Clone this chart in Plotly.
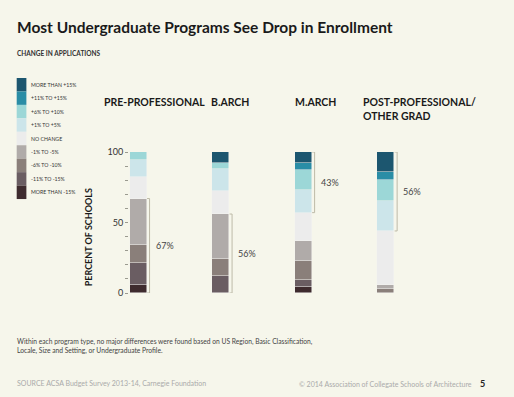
import plotly.graph_objects as go

# ---------------- data ----------------
programs = ["PRE-PROFESSIONAL", "B.ARCH", "M.ARCH", "POST-PROFESSIONAL/<br>OTHER GRAD"]
levels = ["MORE THAN -15%", "-11% TO -15%", "-6% TO -10%", "-1% TO -5%", "NO CHANGE",
          "+1% TO +5%", "+6% TO +10%", "+11% TO +15%", "MORE THAN +15%"]
colors = ["#3e2b2e", "#6a5d62", "#8a7f7a", "#b0aba9", "#ececec",
          "#cce5ea", "#9cd7d7", "#2a8da6", "#1c566f"]
# percent of schools per level (rows = levels bottom->top, cols = programs)
dec_gt15 = [6, 0, 4, 0]
dec_11_15 = [15, 12, 5, 0]
dec_6_10 = [13, 12, 14, 3]
dec_1_5 = [33, 32, 14, 3]
no_change = [15, 16, 20, 38]
inc_1_5 = [12, 16, 16, 21]
inc_6_10 = [6, 4, 14, 15]
inc_11_15 = [0, 0, 5, 6]
inc_gt15 = [0, 8, 8, 14]
series = [dec_gt15, dec_11_15, dec_6_10, dec_1_5, no_change, inc_1_5, inc_6_10, inc_11_15, inc_gt15]

# bracket annotations: (program index, low, high, label)
bracket_lo = [0, 0, 57, 44]
bracket_hi = [67, 56, 100, 100]
bracket_labels = ["67%", "56%", "43%", "56%"]

ytick_vals = list(range(0, 101, 10))
ytick_text = [str(v) if v % 50 == 0 else "" for v in ytick_vals]

# ---------------- layout geometry ----------------
W, H = 514, 397
L, R, T, B = 128.5, 104, 152.3, 103.7
BG = "#f6f6eb"
FONT = "Lato, Liberation Sans, sans-serif"

def px(x):
    return (x - L) / (W - L - R)

def py(y):
    return (H - B - y) / (H - T - B)

xs = list(range(len(programs)))
fig = go.Figure()
for name, vals, col in zip(levels, series, colors):
    fig.add_trace(go.Bar(x=xs, y=vals, name=name, marker=dict(color=col, line=dict(color="#f4f4f0", width=0.5)),
                         width=0.206, showlegend=False, hoverinfo="skip"))

shapes = []
annotations = []
bx = 0.138
for i, lo, hi, lab in zip(xs, bracket_lo, bracket_hi, bracket_labels):
    c = "#bdbaa8"
    shapes.append(dict(type="line", xref="x", yref="y", x0=i + bx, x1=i + bx, y0=lo, y1=hi, line=dict(color=c, width=1)))
    shapes.append(dict(type="line", xref="x", yref="y", x0=i + bx - 0.03, x1=i + bx, y0=lo, y1=lo, line=dict(color=c, width=1)))
    shapes.append(dict(type="line", xref="x", yref="y", x0=i + bx - 0.03, x1=i + bx, y0=hi, y1=hi, line=dict(color=c, width=1)))
    annotations.append(dict(xref="x", yref="y", x=i + 0.19, y=(lo + hi) / 2, text=lab, showarrow=False,
                            xanchor="left", yanchor="middle", font=dict(family=FONT, size=9, color="#444")))

# program headers
header_x = [103, 211, 295, 363]
for hx, name in zip(header_x, programs):
    annotations.append(dict(xref="paper", yref="paper", x=px(hx - 2), y=py(94.5), text="<b>" + name + "</b>",
                            showarrow=False, xanchor="left", yanchor="top", align="left",
                            font=dict(family=FONT, size=10.5, color="#1a1a1a")))

# legend (manual)
top = 78.3
step = 13.45
for k, (name, col) in enumerate(zip(levels[::-1], colors[::-1])):
    y0 = top + k * step
    shapes.append(dict(type="rect", xref="paper", yref="paper", x0=px(16), x1=px(25.7), y0=py(y0), y1=py(y0 + step),
                       fillcolor=col, line=dict(width=0)))
    annotations.append(dict(xref="paper", yref="paper", x=px(28.5), y=py(y0 + step / 2), text=name, showarrow=False,
                            xanchor="left", yanchor="middle", font=dict(family=FONT, size=5.2, color="#333")))

# titles and notes
annotations += [
    dict(xref="paper", yref="paper", x=px(14), y=py(27.5), text="<b>Most Undergraduate Programs See Drop in Enrollment</b>",
         showarrow=False, xanchor="left", yanchor="middle", font=dict(family=FONT, size=15.5, color="#1a1a1a")),
    dict(xref="paper", yref="paper", x=px(14), y=py(54), text="<b>CHANGE IN APPLICATIONS</b>",
         showarrow=False, xanchor="left", yanchor="middle", font=dict(family=FONT, size=6.5, color="#333")),
    dict(xref="paper", yref="paper", x=px(88), y=py(238), text="<b>PERCENT OF SCHOOLS</b>", textangle=-90,
         showarrow=False, xanchor="center", yanchor="middle", font=dict(family=FONT, size=9, color="#1a1a1a")),
    dict(xref="paper", yref="paper", x=px(14), y=py(346), align="left",
         text="Within each program type, no major differences were found based on US Region, Basic Classification,<br>"
              "Locale, Size and Setting, or Undergraduate Profile.",
         showarrow=False, xanchor="left", yanchor="middle", font=dict(family=FONT, size=6.7, color="#444")),
    dict(xref="paper", yref="paper", x=px(14), y=py(384), text="SOURCE ACSA Budget Survey 2013-14, Carnegie Foundation",
         showarrow=False, xanchor="left", yanchor="middle", font=dict(family=FONT, size=7, color="#aaaaaa")),
    dict(xref="paper", yref="paper", x=px(474), y=py(384), text="© 2014 Association of Collegate Schools of Architecture",
         showarrow=False, xanchor="right", yanchor="middle", font=dict(family=FONT, size=7, color="#aaaaaa")),
    dict(xref="paper", yref="paper", x=px(478), y=py(383.5), text="<b>5</b>",
         showarrow=False, xanchor="left", yanchor="middle", font=dict(family=FONT, size=9, color="#222")),
]

fig.update_layout(
    width=W, height=H, margin=dict(l=L, r=R, t=T, b=B, pad=0),
    paper_bgcolor=BG, plot_bgcolor=BG, barmode="stack", bargap=0,
    shapes=shapes, annotations=annotations,
    xaxis=dict(range=[-0.111, 3.294], showticklabels=False, showgrid=False, zeroline=False, showline=False, ticks=""),
    yaxis=dict(range=[0, 100], tickvals=ytick_vals, ticktext=ytick_text, ticks="outside", ticklen=3,
               tickcolor="#9a9a90", tickwidth=1, showgrid=False, zeroline=False, showline=False,
               tickfont=dict(family=FONT, size=9, color="#333")),
)

fig.write_html("out.html", config={"displayModeBar": False},
               post_script="document.body.style.margin='0';document.body.style.background='%s';" % BG)
